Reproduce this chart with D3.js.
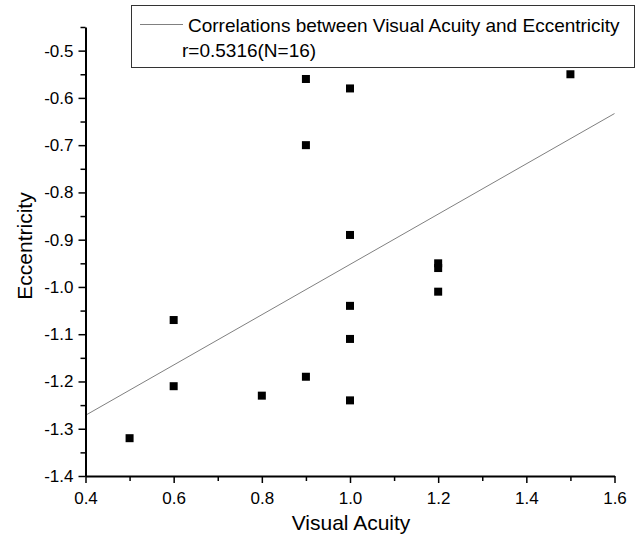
<!DOCTYPE html>
<html>
<head>
<meta charset="utf-8">
<script src="https://cdn.jsdelivr.net/npm/d3@7"></script>
<style>
  body { margin: 0; background: #fff; }
  text { font-family: "Liberation Sans", Arial, sans-serif; }
</style>
</head>
<body>
<script>
// visual acuity vs eccentricity
var acuity = [0.5, 0.6, 0.6, 0.8, 0.9, 0.9, 0.9, 1.0, 1.0, 1.0, 1.0, 1.0, 1.2, 1.2, 1.2, 1.5];
var eccentricity = [-1.32, -1.07, -1.21, -1.23, -1.19, -0.56, -0.70, -1.04, -1.11, -1.24, -0.58, -0.89, -0.95, -0.96, -1.01, -0.55];
var xTicks = [0.4, 0.6, 0.8, 1.0, 1.2, 1.4, 1.6];
var xMinor = [0.5, 0.7, 0.9, 1.1, 1.3, 1.5];
var yTicks = [-1.4, -1.3, -1.2, -1.1, -1.0, -0.9, -0.8, -0.7, -0.6, -0.5];
var yMinor = [-1.35, -1.25, -1.15, -1.05, -0.95, -0.85, -0.75, -0.65, -0.55, -0.45];
var legendLines = ["Correlations between Visual Acuity and Eccentricity", "r=0.5316(N=16)"];

var width = 642;
var height = 540;

var svg = d3.select("body").append("svg")
  .attr("width", width)
  .attr("height", height);

var x = d3.scaleLinear().domain([0.4, 1.6]).range([85.5, 614.5]);
var y = d3.scaleLinear().domain([-1.4, -0.45]).range([476, 27]);

var points = acuity.map(function(d, i){ return {x: d, y: eccentricity[i]}; });

// least squares fit
var mx = d3.mean(acuity), my = d3.mean(eccentricity);
var sxy = d3.sum(points, function(p){ return (p.x - mx) * (p.y - my); });
var sxx = d3.sum(points, function(p){ return (p.x - mx) * (p.x - mx); });
var slope = sxy / sxx;
var icpt = my - slope * mx;

svg.append("line")
  .attr("x1", x(0.4)).attr("y1", y(icpt + slope * 0.4))
  .attr("x2", x(1.6)).attr("y2", y(icpt + slope * 1.6))
  .attr("stroke", "#808080")
  .attr("stroke-width", 1);

svg.selectAll("rect.pt").data(points).enter().append("rect")
  .attr("class", "pt")
  .attr("x", function(d){ return x(d.x) - 4; })
  .attr("y", function(d){ return y(d.y) - 4; })
  .attr("width", 8)
  .attr("height", 8)
  .attr("fill", "#000");

var fmt = function(d){ return d.toFixed(1); };

// minor ticks
svg.append("g")
  .attr("transform", "translate(0,476)")
  .call(d3.axisBottom(x).tickValues(xMinor).tickSize(5).tickSizeOuter(0).tickFormat(""))
  .call(function(g){ g.select(".domain").remove(); });
svg.append("g")
  .attr("transform", "translate(85.5,0)")
  .call(d3.axisLeft(y).tickValues(yMinor).tickSize(5).tickSizeOuter(0).tickFormat(""))
  .call(function(g){ g.select(".domain").remove(); });

var xAxis = svg.append("g")
  .attr("transform", "translate(0,476)")
  .call(d3.axisBottom(x).tickValues(xTicks).tickSize(7).tickSizeOuter(0).tickPadding(9).tickFormat(fmt));
var yAxis = svg.append("g")
  .attr("transform", "translate(85.5,0)")
  .call(d3.axisLeft(y).tickValues(yTicks).tickSize(7).tickSizeOuter(0).tickPadding(5).tickFormat(fmt));

svg.selectAll(".domain").attr("stroke-width", 2).attr("stroke", "#000");
svg.selectAll(".tick line").attr("stroke-width", 1.5).attr("stroke", "#000");
svg.selectAll(".tick text")
  .attr("font-size", 17)
  .attr("fill", "#000")
  .style("font-family", "'Liberation Sans', Arial, sans-serif");

svg.append("text")
  .attr("x", 351).attr("y", 530)
  .attr("text-anchor", "middle")
  .attr("font-size", 21)
  .text("Visual Acuity");

svg.append("text")
  .attr("transform", "translate(32,246) rotate(-90)")
  .attr("text-anchor", "middle")
  .attr("font-size", 21)
  .text("Eccentricity");

// legend
var legend = svg.append("g");
legend.append("rect")
  .attr("x", 131.5).attr("y", 5.5)
  .attr("width", 503).attr("height", 62)
  .attr("fill", "#fff")
  .attr("stroke", "#333")
  .attr("stroke-width", 1);
legend.append("line")
  .attr("x1", 140).attr("x2", 183)
  .attr("y1", 24.5).attr("y2", 24.5)
  .attr("stroke", "#808080");
legend.append("text")
  .attr("x", 188).attr("y", 32)
  .attr("font-size", 19)
  .text(legendLines[0]);
legend.append("text")
  .attr("x", 182).attr("y", 57)
  .attr("font-size", 19)
  .text(legendLines[1]);
</script>
</body>
</html>
